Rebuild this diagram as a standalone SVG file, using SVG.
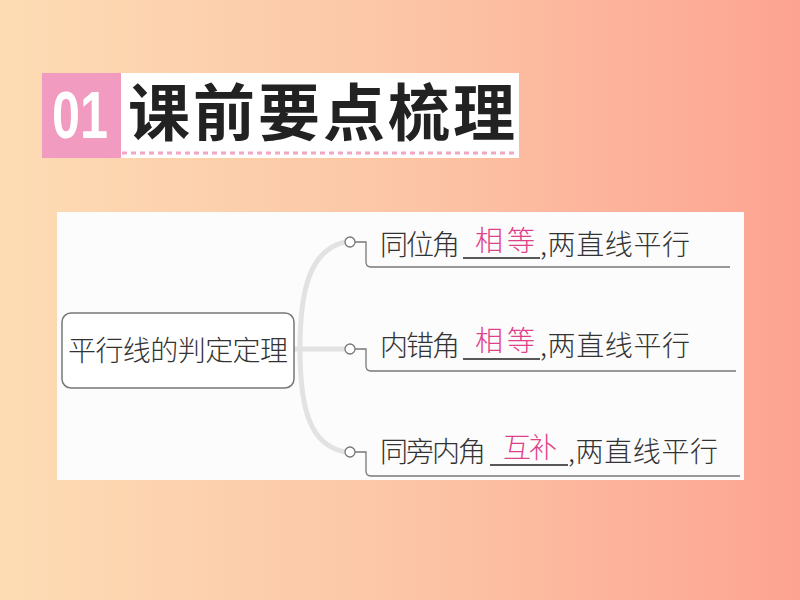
<svg xmlns="http://www.w3.org/2000/svg" width="800" height="600" viewBox="0 0 800 600">
<defs>
<linearGradient id="bg" x1="0" y1="0" x2="1" y2="0">
<stop offset="0" stop-color="#fddcb4"/>
<stop offset="0.5" stop-color="#fcc6a6"/>
<stop offset="1" stop-color="#fda392"/>
</linearGradient>
<style>
.t{font-family:"Noto Sans CJK SC","Noto Sans CJK JP",sans-serif;font-weight:300;fill:#333;font-size:28px}
.a{font-family:"Noto Sans CJK SC",sans-serif;font-weight:300;fill:#e0408a;font-size:28px}
.ul{stroke:#222;stroke-width:1.5;fill:none}
.br{stroke:#777;stroke-width:1.3;fill:none}
.dot{fill:#fff;stroke:#777;stroke-width:1.3}
</style>
</defs>
<rect width="800" height="600" fill="url(#bg)"/>
<g id="title">
<rect x="42" y="73" width="477" height="85" fill="#fff"/>
<rect x="42" y="73" width="79" height="85" fill="#f09bbf"/>
<text x="52" y="138" font-family="Liberation Sans,Arial,sans-serif" font-weight="bold" font-size="66" fill="#fff" textLength="56" lengthAdjust="spacingAndGlyphs">01</text>
<line x1="122" y1="153" x2="516" y2="153" stroke="#f2a6c4" stroke-width="3" stroke-dasharray="5,4"/>
<text x="128" y="136" font-family="Noto Sans CJK SC,sans-serif" font-weight="bold" font-size="62" fill="#222" letter-spacing="3">课前要点梳理</text>
</g>
<rect x="57" y="212" width="687" height="268" fill="#fcfcfc"/>
<g id="connectors">
<path d="M345 242 C 310 250, 300 290, 300 348 C 300 410, 310 445, 345 452" stroke="#e2e2e2" stroke-width="5" fill="none"/>
<line x1="294" y1="349" x2="345" y2="349" stroke="#e2e2e2" stroke-width="5"/>
<path class="br" d="M355 242 H366 V262 Q366 267 371 267 H730"/>
<path class="br" d="M355 349 H366 V366 Q366 371 371 371 H736"/>
<path class="br" d="M355 452 H366 V471 Q366 476 371 476 H740"/>
<circle class="dot" cx="350" cy="242" r="5"/>
<circle class="dot" cx="350" cy="349" r="5"/>
<circle class="dot" cx="350" cy="452" r="5"/>
</g>
<g id="root">
<rect x="62" y="313" width="232" height="75" rx="9" fill="#fff" stroke="#777" stroke-width="1.5"/>
<text class="t" x="178" y="361" text-anchor="middle" font-size="28" textLength="220">平行线的判定定理</text>
</g>
<g id="n1">
<text class="t" x="380" y="255" textLength="80">同位角</text>
<line class="ul" x1="463" y1="258" x2="540" y2="258"/>
<text class="a" x="475" y="251" textLength="60">相等</text>
<text class="t" x="540" y="255" textLength="150">,两直线平行</text>
</g>
<g id="n2">
<text class="t" x="380" y="356" textLength="80">内错角</text>
<line class="ul" x1="463" y1="359" x2="540" y2="359"/>
<text class="a" x="475" y="351" textLength="60">相等</text>
<text class="t" x="540" y="356" textLength="150">,两直线平行</text>
</g>
<g id="n3">
<text class="t" x="380" y="462" textLength="106">同旁内角</text>
<line class="ul" x1="490" y1="465" x2="568" y2="465"/>
<text class="a" x="503" y="458" textLength="54">互补</text>
<text class="t" x="568" y="462" textLength="150">,两直线平行</text>
</g>
</svg>
